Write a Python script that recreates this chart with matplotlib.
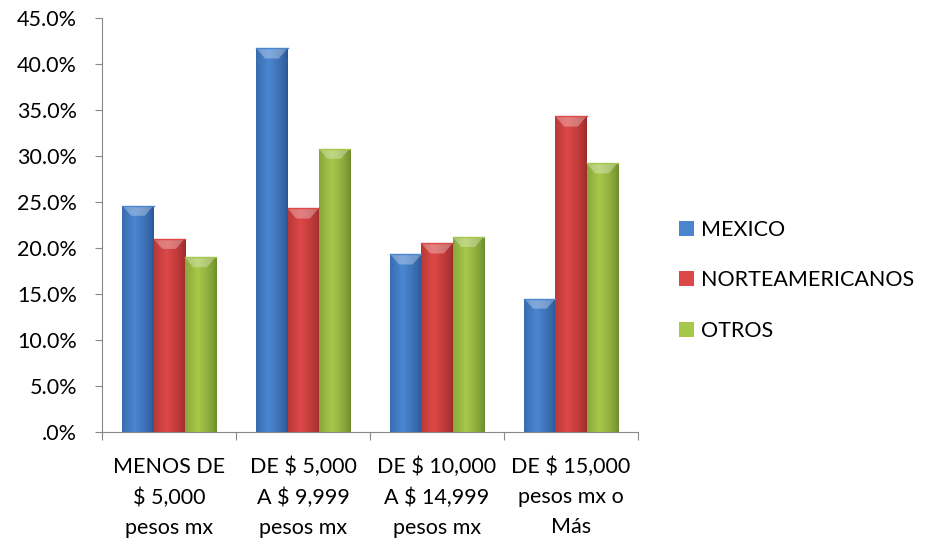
import numpy as np
import matplotlib.pyplot as plt
from matplotlib.colors import to_rgb
from matplotlib.patches import Polygon

plt.rcParams['font.family'] = ['Lato', 'DejaVu Sans']

categories = ['MENOS DE\n$ 5,000\npesos mx', 'DE $ 5,000\nA $ 9,999\npesos mx',
              'DE $ 10,000\nA $ 14,999\npesos mx', 'DE $ 15,000\npesos mx o\nMás']
series = ['MEXICO', 'NORTEAMERICANOS', 'OTROS']
mexico = [24.6, 41.7, 19.3, 14.5]
norteamericanos = [21.0, 24.3, 20.5, 34.3]
otros = [19.0, 30.8, 21.2, 29.2]
yticks = [0, 5, 10, 15, 20, 25, 30, 35, 40, 45]
ytick_labels = ['.0%', '5.0%', '10.0%', '15.0%', '20.0%', '25.0%', '30.0%', '35.0%', '40.0%', '45.0%']

colors = {'MEXICO': ('#4a86d0', '#2a5592'),
          'NORTEAMERICANOS': ('#dc4848', '#9a2a28'),
          'OTROS': ('#a6c84a', '#6c8a2c')}

fig = plt.figure(figsize=(9.28, 5.46), dpi=100)
ax = fig.add_axes([0.110, 0.209, 0.5775, 0.758])

width = 0.232
x = np.arange(len(categories))


def shade(light, dark):
    # horizontal gradient: dark edges, lighter left-of-centre
    t = np.linspace(0, 1, 64)
    prof = np.clip(1 - np.abs(t - 0.4) / 0.6, 0, 1) ** 0.7
    lo, hi = np.array(to_rgb(dark)), np.array(to_rgb(light))
    row = lo[None, :] + (hi - lo)[None, :] * prof[:, None]
    return row[None, :, :]


handles = []
for i, (name, vals) in enumerate(zip(series, [mexico, norteamericanos, otros])):
    light, dark = colors[name]
    bars = ax.bar(x + (i - 1) * width, vals, width, color=light, edgecolor='none',
                  label=name, zorder=2)
    handles.append(bars)
    img = shade(light, dark)
    for b in bars:
        x0, y0 = b.get_x(), b.get_y()
        w, h = b.get_width(), b.get_height()
        im = ax.imshow(img, extent=[x0, x0 + w, y0, y0 + h], aspect='auto',
                       zorder=3, interpolation='bicubic')
        im.set_clip_path(b)
        # bevel at the top of each bar
        bh = 1.1
        top = Polygon([[x0, y0 + h], [x0 + w, y0 + h], [x0 + w * 0.72, y0 + h - bh],
                       [x0 + w * 0.28, y0 + h - bh]], closed=True,
                      facecolor='white', alpha=0.3, edgecolor='none', zorder=4)
        ax.add_patch(top)
        ax.plot([x0, x0 + w], [y0 + h, y0 + h], color=light, lw=1, zorder=5)

ax.set_xlim(-0.5, len(categories) - 0.5)
ax.set_ylim(0, 45)
ax.set_yticks(yticks)
ax.set_yticklabels(ytick_labels, fontsize=15.5)
ax.set_xticks(np.arange(len(categories) + 1) - 0.5)
ax.set_xticklabels([])
ax.set_xticks(x, minor=True)
ax.set_xticklabels(categories, minor=True, fontsize=15.5, linespacing=1.63)
ax.tick_params(axis='x', which='minor', length=0, pad=18)
ax.tick_params(axis='x', which='major', length=6, color='#888888', direction='out')
ax.tick_params(axis='y', length=5, color='#888888', direction='out', pad=13)

for s in ['top', 'right']:
    ax.spines[s].set_visible(False)
for s in ['left', 'bottom']:
    ax.spines[s].set_color('#888888')

leg = fig.legend(handles=handles, labels=series, loc='upper left',
                 bbox_to_anchor=(0.711, 0.632), frameon=False, fontsize=15.5,
                 handlelength=0.7, handleheight=0.7, handletextpad=0.3,
                 labelspacing=1.4)

fig.savefig('out.png', dpi=100)
